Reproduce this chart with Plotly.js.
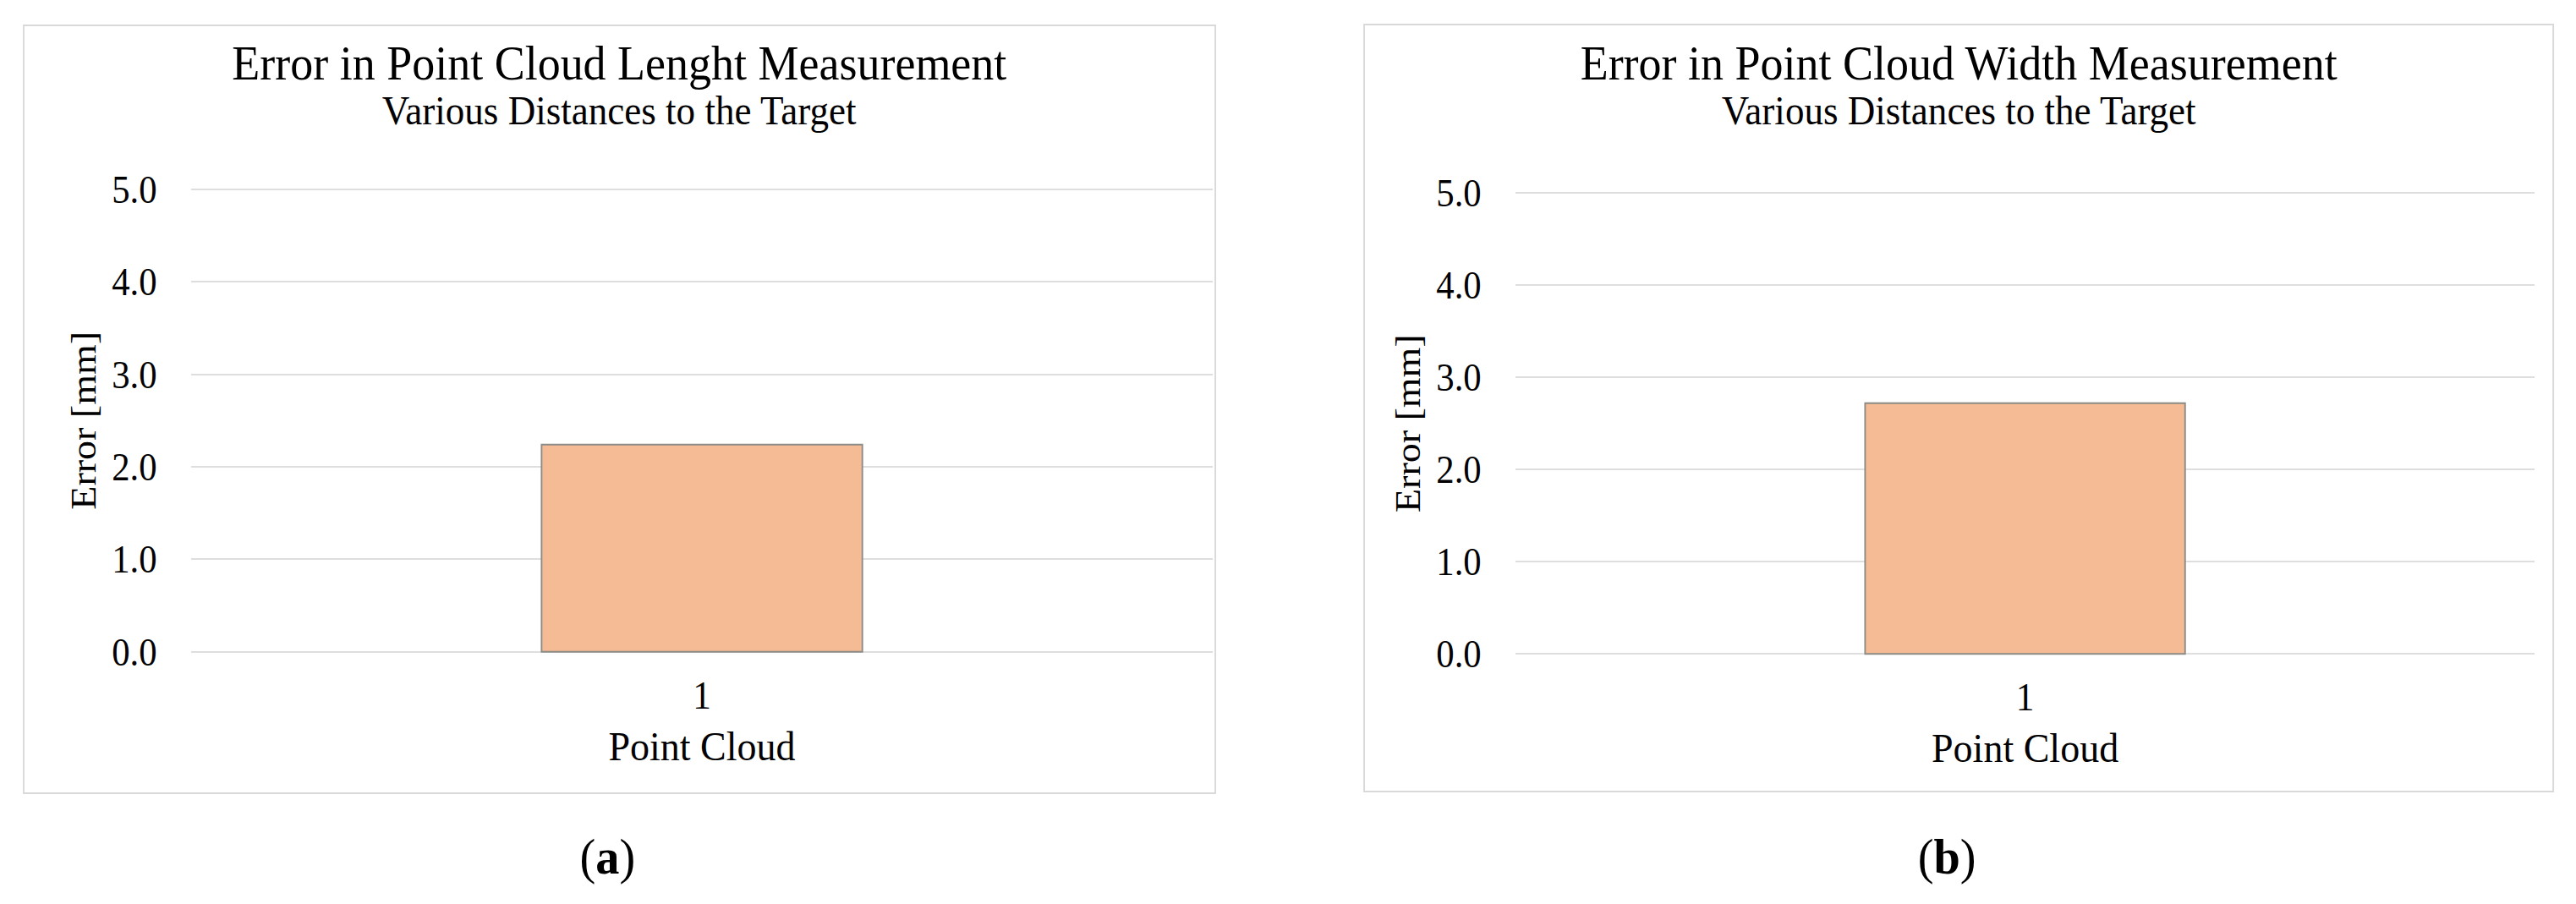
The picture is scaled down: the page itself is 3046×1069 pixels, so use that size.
<!DOCTYPE html>
<html>
<head>
<meta charset="utf-8">
<script src="https://cdn.plot.ly/plotly-3.0.1.min.js"></script>
<style>
  html, body { margin: 0; padding: 0; background: #ffffff; overflow: hidden; width: 3046px; height: 1069px; }
  #chart { transform-origin: 0 0; }
</style>
</head>
<body>
<div id="chart"></div>
<script>
// ---- data ----
const categories = ["1"];
const lengthError = [2.24];   // panel (a)
const widthError = [2.72];    // panel (b)
const yTicks = [0, 1, 2, 3, 4, 5];
const panelTitles = ["Error in Point Cloud Lenght Measurement", "Error in Point Cloud Width Measurement"];
const panelSubtitle = "Various Distances to the Target";
const xTitle = "Point Cloud";
const yTitle = "Error [mm]";
const panelLabels = ["(<b>a</b>)", "(<b>b</b>)"];

// ---- geometry (pixels in the 3046 x 1069 picture) ----
const W = 3046, H = 1069;
const S = 0.939;                 // the reference font is narrow: draw wider, squeeze horizontally
const W2 = Math.round(W / S);
const px = v => v / W;
const py = v => 1 - v / H;

const chartDiv = document.getElementById("chart");
chartDiv.style.width = W2 + "px";
chartDiv.style.height = H + "px";
chartDiv.style.transform = "scaleX(" + S + ")";

const FONT = "Liberation Serif, Times New Roman, serif";
const barColor = "rgb(244,187,148)";
const barLine = "rgb(140,140,135)";
const gridColor = "#dedede";

const traces = [
  { type: "bar", x: categories, y: lengthError, xaxis: "x", yaxis: "y", width: 0.314,
    marker: { color: barColor, line: { color: barLine, width: 2 } }, hoverinfo: "skip" },
  { type: "bar", x: categories, y: widthError, xaxis: "x2", yaxis: "y2", width: 0.314,
    marker: { color: barColor, line: { color: barLine, width: 2 } }, hoverinfo: "skip" }
];

function xAxis(domain, anchor) {
  return {
    domain: domain, anchor: anchor, type: "category", range: [-0.5, 0.5],
    showgrid: false, zeroline: false, showline: false, ticks: "",
    ticklabelstandoff: 18,
    tickfont: { family: FONT, size: 46, color: "#000" },
    title: { text: xTitle, font: { family: FONT, size: 49, color: "#000" }, standoff: 17 },
    fixedrange: true
  };
}
function yAxis(domain, anchor) {
  return {
    domain: domain, anchor: anchor, range: [-0.02, 5.02], tickvals: yTicks, tickformat: ".1f",
    showgrid: true, gridcolor: gridColor, gridwidth: 2,
    zeroline: false, showline: false, ticks: "",
    ticklabelstandoff: 42,
    tickfont: { family: FONT, size: 45.5, color: "#000" },
    title: { text: yTitle, font: { family: FONT, size: 46, color: "#000" }, standoff: 5 },
    fixedrange: true
  };
}

const panels = [
  { x0: 28, x1: 1437, y0: 30, y1: 938, cx: 732, lx: 718 },
  { x0: 1613, x1: 3019, y0: 29, y1: 936, cx: 2316, lx: 2302 }
];

const shapes = panels.map(p => ({
  type: "rect", xref: "paper", yref: "paper",
  x0: px(p.x0), x1: px(p.x1), y0: py(p.y1), y1: py(p.y0),
  line: { color: "#d9d9d9", width: 2 }, fillcolor: "rgba(0,0,0,0)", layer: "below"
}));

const annotations = [];
panels.forEach((p, i) => {
  annotations.push({ xref: "paper", yref: "paper", x: px(p.cx), y: py(75), xanchor: "center", yanchor: "middle",
    text: panelTitles[i], showarrow: false, font: { family: FONT, size: 57.5, color: "#000" } });
  annotations.push({ xref: "paper", yref: "paper", x: px(p.cx), y: py(130), xanchor: "center", yanchor: "middle",
    text: panelSubtitle, showarrow: false, font: { family: FONT, size: 48, color: "#000" } });
  annotations.push({ xref: "paper", yref: "paper", x: px(p.lx), y: py(1013), xanchor: "center", yanchor: "middle",
    text: panelLabels[i], showarrow: false, font: { family: FONT, size: 60, color: "#000" } });
});

// plot-area pixel edges, padded a little so the 0.0 and 5.0 grid lines are kept
const padA = 0.02 * (770.7 - 224) / 5;
const padB = 0.02 * (773.3 - 228) / 5;

const layout = {
  width: W2, height: H,
  margin: { l: 0, r: 0, t: 0, b: 0, pad: 0 },
  paper_bgcolor: "#ffffff", plot_bgcolor: "rgba(0,0,0,0)",
  showlegend: false,
  bargap: 0,
  xaxis: xAxis([px(226), px(1434)], "y"),
  yaxis: yAxis([py(770.7 + padA), py(224 - padA)], "x"),
  xaxis2: xAxis([px(1792), px(2997)], "y2"),
  yaxis2: yAxis([py(773.3 + padB), py(228 - padB)], "x2"),
  shapes: shapes,
  annotations: annotations
};

Plotly.newPlot(chartDiv, traces, layout, { staticPlot: true, displayModeBar: false });
</script>
</body>
</html>
